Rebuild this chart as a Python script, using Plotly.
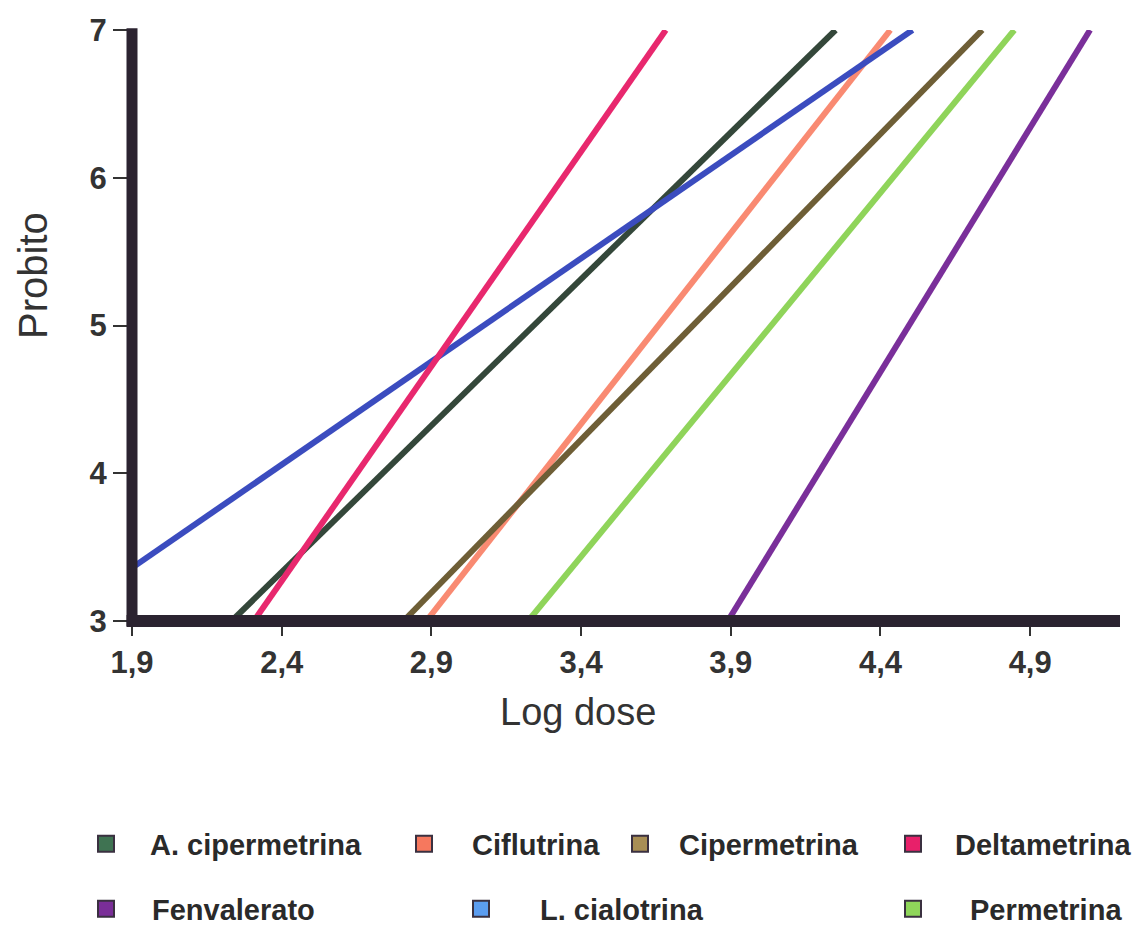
import plotly.graph_objects as go

series = ["A. cipermetrina", "Ciflutrina", "Cipermetrina", "Deltametrina",
          "Fenvalerato", "L. cialotrina", "Permetrina"]
x_start = [2.233, 2.883, 2.807, 2.307, 3.890, 1.900, 3.223]
x_end = [4.250, 4.433, 4.740, 3.683, 5.100, 4.507, 4.847]
y_start = [3.0, 3.0, 3.0, 3.0, 3.0, 3.36, 3.0]
y_end = [7.0, 7.0, 7.0, 7.0, 7.0, 7.0, 7.0]

x_ticks = [1.9, 2.4, 2.9, 3.4, 3.9, 4.4, 4.9]
x_ticklabels = ["1,9", "2,4", "2,9", "3,4", "3,9", "4,4", "4,9"]
y_ticks = [3, 4, 5, 6, 7]
y_ticklabels = ["3", "4", "5", "6", "7"]

line_colors = ["#34473a", "#f98a72", "#6e5e36", "#e8286e", "#7a2f9a", "#3b4cbf", "#8fd45a"]
swatch_colors = ["#3f7352", "#f6785e", "#a88e55", "#e8206a", "#7a2e98", "#5b9df0", "#8fd65a"]

FONT = "Liberation Sans, Arial, sans-serif"

W, H = 1138, 930
L, R, T, B = 132, 18, 30, 309
pw, ph = W - L - R, H - T - B

def px_to_paper(px, py):
    return (px - L) / pw, (H - B - py) / ph

# (text start x, swatch centre x, row centre y) in page pixels
legend_pos = [(150, 106, 844), (472, 424, 844), (679, 640, 844), (955, 913, 844),
              (152, 106, 909), (540, 481, 909), (970, 913, 909)]

fig = go.Figure()
order = [0, 1, 2, 4, 6, 5, 3]
for i in order:
    fig.add_trace(go.Scatter(
        x=[x_start[i], x_end[i]], y=[y_start[i], y_end[i]],
        mode="lines", line=dict(color=line_colors[i], width=6),
        showlegend=False, hoverinfo="skip"))

legend_layout = {}
for i, name in enumerate(series):
    lname = "legend" if i == 0 else f"legend{i+1}"
    fig.add_trace(go.Scatter(
        x=[None], y=[None], mode="markers", name=name,
        marker=dict(symbol="square", size=16, color=swatch_colors[i],
                    line=dict(color="#3a3040", width=2)),
        legend=lname, showlegend=True))
    tx, sx, ry = legend_pos[i]
    gap = tx - sx
    iw = max(30, 2 * (gap - 5))
    lx = tx - iw - 10
    xp, yp = px_to_paper(lx, ry)
    legend_layout[lname] = dict(
        x=xp, y=yp, xanchor="left", yanchor="middle",
        bgcolor="rgba(0,0,0,0)", borderwidth=0, itemwidth=iw,
        font=dict(family=FONT, size=29, color="#2a2a2a", weight="bold"),
        itemsizing="trace")

tx_log, ty_log = px_to_paper(578, 712)
tx_pro, ty_pro = px_to_paper(33, 276)

fig.update_layout(
    width=W, height=H,
    margin=dict(l=L, r=R, t=T, b=B, autoexpand=False),
    paper_bgcolor="white", plot_bgcolor="white",
    font=dict(family=FONT, color="#333333"),
    xaxis=dict(range=[1.9, 5.2], tickvals=x_ticks, ticktext=x_ticklabels,
               showgrid=False, zeroline=False, showline=False, automargin=False,
               ticks="outside", ticklen=14, tickwidth=2, tickcolor="#333333",
               tickfont=dict(size=31, color="#333333", family=FONT, weight="bold")),
    yaxis=dict(range=[3, 7], tickvals=y_ticks, ticktext=y_ticklabels,
               showgrid=False, zeroline=False, showline=False, automargin=False,
               ticks="outside", ticklen=18, tickwidth=2, tickcolor="#333333",
               tickfont=dict(size=31, color="#333333", family=FONT, weight="bold")),
    annotations=[
        dict(text="Log dose", xref="paper", yref="paper", x=tx_log, y=ty_log,
             xanchor="center", yanchor="middle", showarrow=False,
             font=dict(family=FONT, size=38, color="#333333")),
        dict(text="Probito", xref="paper", yref="paper", x=tx_pro, y=ty_pro,
             xanchor="center", yanchor="middle", showarrow=False, textangle=-90,
             font=dict(family=FONT, size=40, color="#333333")),
    ],
    **legend_layout,
)

# thick axis lines
fig.add_shape(type="line", xref="paper", yref="paper", x0=0, x1=0, y0=-0.009, y1=1.003,
              line=dict(color="#2b2330", width=11), layer="above")
fig.add_shape(type="line", xref="paper", yref="paper", x0=-0.0055, x1=1.0, y0=0, y1=0,
              line=dict(color="#2b2330", width=12), layer="above")

fig.write_html("out.html", config={"displayModeBar": False},
               post_script="document.body.style.margin='0px';")
